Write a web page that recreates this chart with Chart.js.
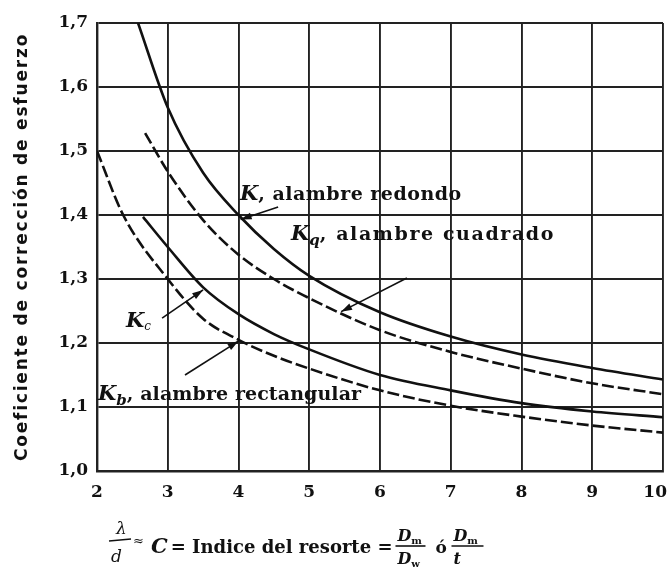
<!DOCTYPE html>
<html>
<head>
<meta charset="utf-8">
<script src="https://cdn.jsdelivr.net/npm/chart.js@4.4.1/dist/chart.umd.min.js"></script>
<style>
html,body{margin:0;padding:0;background:#fff;}
#wrap{width:669px;height:576px;}
</style>
</head>
<body>
<div id="wrap"><canvas id="chart" width="669" height="576"></canvas></div>
<script>
// ====================================
// DATA
// ====================================

// K, alambre redondo (solid)
const kC   = [2.58, 3.0, 3.5, 4.0, 4.5, 5.0, 6.0, 7.0, 8.0, 9.0, 10.0];
const kVal = [1.70, 1.568, 1.466, 1.400, 1.347, 1.305, 1.248, 1.210, 1.182, 1.161, 1.143];

// Kq, alambre cuadrado (dashed)
const kqC   = [2.68, 3.0, 3.5, 4.0, 4.5, 5.0, 6.0, 7.0, 8.0, 9.0, 10.0];
const kqVal = [1.528, 1.468, 1.392, 1.338, 1.300, 1.270, 1.220, 1.186, 1.160, 1.137, 1.120];

// Kc (solid)
const kcC   = [2.65, 3.0, 3.5, 4.0, 4.5, 5.0, 6.0, 7.0, 8.0, 9.0, 10.0];
const kcVal = [1.397, 1.350, 1.287, 1.245, 1.214, 1.190, 1.150, 1.126, 1.106, 1.093, 1.084];

// Kb, alambre rectangular (dashed)
const kbC   = [2.0, 2.37, 3.0, 3.5, 4.0, 4.5, 5.0, 6.0, 7.0, 8.0, 9.0, 10.0];
const kbVal = [1.50, 1.40, 1.30, 1.238, 1.205, 1.180, 1.160, 1.126, 1.102, 1.085, 1.071, 1.060];

const xTicks = [2, 3, 4, 5, 6, 7, 8, 9, 10];
const yTicks = [1.0, 1.1, 1.2, 1.3, 1.4, 1.5, 1.6, 1.7];

// ====================================
// HELPERS
// ====================================

const SERIF = "'DejaVu Serif', 'Liberation Serif', serif";
const INK = "#111";

function pts(xs, ys){
    return xs.map((c, i) => ({ x: c, y: ys[i] }));
}

// draw a row of text runs, each with its own font and vertical shift
function runs(ctx, list, x0, y0){
    let x = x0;
    list.forEach(r => {
        ctx.font = r.font;
        ctx.letterSpacing = r.ls || "0px";
        ctx.fillText(r.t, x, y0 + (r.dy || 0));
        x += ctx.measureText(r.t).width + (r.gap || 0);
    });
    ctx.letterSpacing = "0px";
    return x;
}

function leader(ctx, x1, y1, x2, y2){
    ctx.beginPath();
    ctx.moveTo(x1, y1);
    ctx.lineTo(x2, y2);
    ctx.lineWidth = 1.6;
    ctx.stroke();
    // small filled arrow head at (x2,y2)
    const a = Math.atan2(y2 - y1, x2 - x1);
    ctx.beginPath();
    ctx.moveTo(x2, y2);
    ctx.lineTo(x2 - 11 * Math.cos(a) + 3.5 * Math.sin(a), y2 - 11 * Math.sin(a) - 3.5 * Math.cos(a));
    ctx.lineTo(x2 - 11 * Math.cos(a) - 3.5 * Math.sin(a), y2 - 11 * Math.sin(a) + 3.5 * Math.cos(a));
    ctx.closePath();
    ctx.fill();
}

// ====================================
// LABELS, X TICKS, AXIS TITLES
// ====================================

const notes = {
    id: "notes",
    afterDatasetsDraw(chart){
        const { ctx, chartArea, scales: { x, y } } = chart;
        const P = (c, v) => [x.getPixelForValue(c), y.getPixelForValue(v)];
        ctx.save();
        ctx.fillStyle = INK;
        ctx.strokeStyle = INK;
        ctx.textBaseline = "alphabetic";
        ctx.textAlign = "left";

        const KF = "italic bold 21px " + SERIF;
        const TF = "bold 19px " + SERIF;
        const SF = "italic bold 15px " + SERIF;

        // K, alambre redondo
        let p = P(4.02, 1.4234);
        runs(ctx, [
            { t: "K", font: KF },
            { t: ", alambre redondo", font: TF, ls: "0.5px" }
        ], p[0], p[1]);
        let a = P(4.56, 1.4125), b = P(4.03, 1.393);
        leader(ctx, a[0], a[1], b[0], b[1]);

        // Kq, alambre cuadrado
        p = P(4.742, 1.361);
        runs(ctx, [
            { t: "K", font: KF },
            { t: "q", font: SF, dy: 5 },
            { t: ", alambre cuadrado", font: TF, ls: "1.6px" }
        ], p[0], p[1]);
        a = P(6.38, 1.3016); b = P(5.45, 1.249);
        leader(ctx, a[0], a[1], b[0], b[1]);

        // Kc
        p = P(2.41, 1.225);
        runs(ctx, [
            { t: "K", font: KF },
            { t: "c", font: "italic 12px " + SERIF, dy: 3 }
        ], p[0], p[1]);
        a = P(2.92, 1.239); b = P(3.5, 1.283);
        leader(ctx, a[0], a[1], b[0], b[1]);

        // Kb, alambre rectangular
        p = P(2.014, 1.111);
        runs(ctx, [
            { t: "K", font: KF },
            { t: "b", font: SF, dy: 5 },
            { t: ", alambre rectangular", font: TF, ls: "0.1px" }
        ], p[0], p[1]);
        a = P(3.244, 1.15); b = P(4.0, 1.203);
        leader(ctx, a[0], a[1], b[0], b[1]);

        // x tick labels (last one kept inside the page)
        ctx.font = "bold 17px " + SERIF;
        ctx.textBaseline = "middle";
        xTicks.forEach(v => {
            const t = String(v);
            const w = ctx.measureText(t).width;
            let left = x.getPixelForValue(v) - w / 2;
            left = Math.min(left, chart.width - 2 - w);
            ctx.fillText(t, left, chartArea.bottom + 22);
        });
        ctx.textBaseline = "alphabetic";

        // y axis title
        ctx.save();
        ctx.translate(27, (chartArea.top + chartArea.bottom) / 2);
        ctx.rotate(-Math.PI / 2);
        ctx.textAlign = "center";
        ctx.font = "bold 17px 'DejaVu Sans', sans-serif";
        ctx.letterSpacing = "1.8px";
        ctx.fillText("Coeficiente de corrección de esfuerzo", 0, 0);
        ctx.restore();

        // x axis title:  λ/d ≈ C = Indice del resorte = Dm/Dw ó Dm/t
        const base = 553;
        ctx.font = "italic 17px " + SERIF;
        ctx.fillText("λ", 116, 534);
        ctx.fillText("d", 111, 562);
        ctx.beginPath();
        ctx.moveTo(109, 541); ctx.lineTo(131, 539);
        ctx.lineWidth = 1.4; ctx.stroke();
        ctx.font = "13px " + SERIF;
        ctx.fillText("≈", 133, 545);

        let xe = runs(ctx, [
            { t: "C", font: "italic bold 21px " + SERIF, gap: 3 },
            { t: "= Indice del resorte =", font: "bold 18px " + SERIF, gap: 3 }
        ], 151, base);

        // fraction helper
        const frac = (x0, top, bot, w) => {
            runs(ctx, top, x0 + 2, base - 12);
            runs(ctx, bot, x0 + 2, base + 11);
            ctx.beginPath();
            ctx.moveTo(x0, base - 7); ctx.lineTo(x0 + w, base - 7);
            ctx.lineWidth = 1.6; ctx.stroke();
        };
        const DF = "italic bold 16px " + SERIF;
        const sub = "bold 10px " + SERIF;
        frac(xe, [{ t: "D", font: DF }, { t: "m", font: sub, dy: 3 }],
                 [{ t: "D", font: DF }, { t: "w", font: sub, dy: 3 }], 30);
        ctx.font = "bold 17px " + SERIF;
        ctx.fillText("ó", xe + 40, base);
        frac(xe + 56, [{ t: "D", font: DF }, { t: "m", font: sub, dy: 3 }],
                      [{ t: "t", font: DF }], 32);
        ctx.restore();
    }
};

// ====================================
// CHART
// ====================================

const solid = { borderColor: INK, borderWidth: 2.6, pointRadius: 0, fill: false,
                cubicInterpolationMode: "monotone" };
const dashed = Object.assign({}, solid, { borderDash: [12, 4] });

const ctxMain = document.getElementById("chart").getContext("2d");
const mainChart = new Chart(ctxMain, {
    type: "line",
    data: {
        datasets: [
            Object.assign({ label: "K, alambre redondo", data: pts(kC, kVal) }, solid),
            Object.assign({ label: "Kq, alambre cuadrado", data: pts(kqC, kqVal) }, dashed),
            Object.assign({ label: "Kc", data: pts(kcC, kcVal) }, solid),
            Object.assign({ label: "Kb, alambre rectangular", data: pts(kbC, kbVal) }, dashed)
        ]
    },
    options: {
        responsive: false,
        animation: false,
        layout: { padding: { top: 23, right: 6, bottom: 0, left: 0 } },
        plugins: {
            legend: { display: false },
            tooltip: { enabled: false }
        },
        scales: {
            x: {
                type: "linear",
                min: xTicks[0],
                max: xTicks[xTicks.length - 1],
                afterBuildTicks: s => { s.ticks = xTicks.map(v => ({ value: v })); },
                afterFit: s => { s.height = 105; s.paddingLeft = 0; s.paddingRight = 0; },
                grid: { color: "#222", lineWidth: 1.9, drawTicks: false },
                border: { color: "#222", width: 2.4 },
                ticks: { display: false }
            },
            y: {
                min: yTicks[0],
                max: yTicks[yTicks.length - 1],
                afterBuildTicks: s => { s.ticks = yTicks.map(v => ({ value: v })); },
                afterFit: s => { s.width = 97; s.paddingTop = 0; s.paddingBottom = 0; },
                grid: { color: "#222", lineWidth: 1.9, drawTicks: false },
                border: { color: "#222", width: 2.4 },
                ticks: {
                    color: INK, padding: 9,
                    font: { family: SERIF, size: 17, weight: "bold" },
                    callback: v => v.toFixed(1).replace(".", ",")
                }
            }
        }
    },
    plugins: [notes]
});
</script>
</body>
</html>
